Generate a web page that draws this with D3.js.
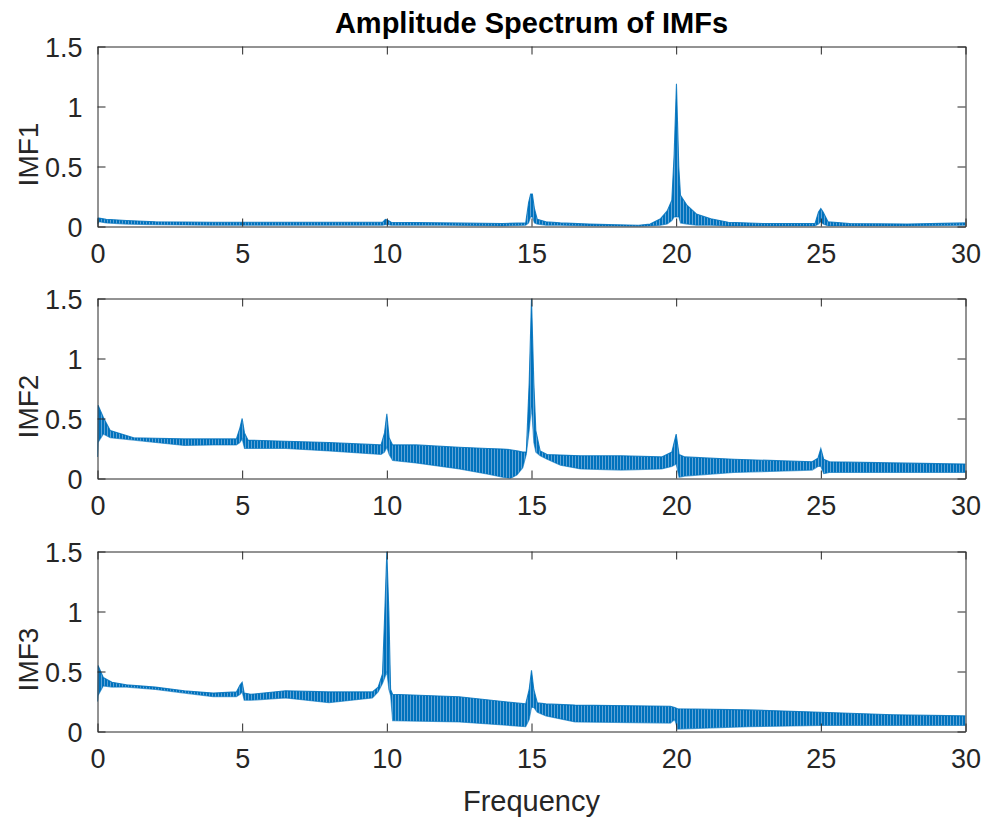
<!DOCTYPE html>
<html>
<head>
<meta charset="utf-8">
<script src="https://cdn.jsdelivr.net/npm/d3@7"></script>
<style>
  html, body { margin: 0; padding: 0; background: #fff; }
  svg { display: block; }
  text { font-family: "Liberation Sans", Arial, Helvetica, sans-serif; }
</style>
</head>
<body>
<svg id="chart" width="984" height="819"></svg>
<script>
// Amplitude spectrum of each IMF: [frequency, upper envelope, lower envelope]
const imf1 = [
  [0.00, 0.07, 0.02], [0.05, 0.07, 0.04], [0.3, 0.06, 0.03], [1, 0.05, 0.02],
  [2, 0.04, 0.015], [4, 0.035, 0.01], [6, 0.035, 0.01], [8, 0.035, 0.01],
  [9.85, 0.035, 0.01], [9.95, 0.06, 0.015], [10.05, 0.05, 0.015], [10.15, 0.035, 0.01],
  [12, 0.03, 0.01], [14, 0.025, 0.005], [14.8, 0.03, 0.01], [14.9, 0.2, 0.03],
  [14.97, 0.27, 0.08], [15.03, 0.27, 0.08], [15.1, 0.15, 0.03], [15.2, 0.06, 0.02],
  [15.5, 0.04, 0.01], [16, 0.03, 0.01], [17, 0.02, 0.005], [18, 0.015, 0.003],
  [18.7, 0.01, 0.0], [19.1, 0.02, 0.005], [19.46, 0.065, 0.01], [19.69, 0.13, 0.02],
  [19.85, 0.22, 0.05], [19.93, 0.6, 0.08], [20.01, 1.19, 0.08], [20.09, 0.5, 0.08],
  [20.15, 0.26, 0.03], [20.38, 0.175, 0.02], [20.7, 0.105, 0.01], [21.2, 0.065, 0.01],
  [21.8, 0.035, 0.005], [23, 0.025, 0.005], [24.8, 0.025, 0.005], [24.92, 0.12, 0.02],
  [25, 0.15, 0.04], [25.08, 0.12, 0.02], [25.25, 0.04, 0.005], [26, 0.025, 0.005],
  [28, 0.02, 0.005], [30, 0.03, 0.01]
];

const imf2 = [
  [0, 0.18, 0.18], [0.02, 0.61, 0.3], [0.2, 0.51, 0.37], [0.44, 0.40, 0.34],
  [1.25, 0.34, 0.32], [2, 0.335, 0.3], [3, 0.33, 0.275], [4, 0.33, 0.28],
  [4.8, 0.33, 0.28], [4.92, 0.42, 0.3], [5, 0.5, 0.33], [5.08, 0.38, 0.25],
  [5.2, 0.32, 0.25], [6.5, 0.31, 0.25], [8, 0.3, 0.23], [9.8, 0.28, 0.2],
  [9.92, 0.38, 0.22], [10, 0.54, 0.26], [10.08, 0.34, 0.2], [10.2, 0.28, 0.15],
  [11, 0.28, 0.13], [12.5, 0.26, 0.08], [13.5, 0.25, 0.035], [14.0, 0.245, 0.01],
  [14.27, 0.24, 0.0], [14.5, 0.23, 0.03], [14.7, 0.22, 0.09], [14.82, 0.22, 0.2],
  [14.92, 0.8, 0.4], [15, 1.5, 0.6], [15.08, 0.8, 0.3], [15.15, 0.4, 0.22],
  [15.3, 0.23, 0.19], [15.54, 0.2, 0.16], [16, 0.195, 0.11], [16.7, 0.19, 0.08],
  [18.1, 0.19, 0.07], [19.5, 0.18, 0.08], [19.85, 0.22, 0.1], [20, 0.37, 0.12],
  [20.1, 0.2, 0.01], [20.3, 0.18, 0.02], [22, 0.16, 0.05], [24.7, 0.14, 0.07],
  [24.9, 0.17, 0.1], [25, 0.25, 0.1], [25.1, 0.16, 0.04], [25.3, 0.14, 0.05],
  [27.5, 0.13, 0.05], [30, 0.12, 0.05]
];

const imf3 = [
  [0, 0.25, 0.25], [0.02, 0.55, 0.3], [0.2, 0.45, 0.38], [0.5, 0.41, 0.37],
  [1, 0.39, 0.37], [2, 0.37, 0.35], [3, 0.34, 0.32], [4, 0.32, 0.29],
  [4.8, 0.33, 0.29], [4.93, 0.39, 0.31], [5, 0.41, 0.33], [5.07, 0.32, 0.26],
  [5.3, 0.31, 0.26], [6.5, 0.34, 0.28], [8, 0.33, 0.24], [9.5, 0.33, 0.28],
  [9.7, 0.37, 0.33], [9.85, 0.48, 0.4], [9.93, 1.0, 0.45], [10, 1.5, 0.5],
  [10.07, 1.0, 0.35], [10.13, 0.35, 0.3], [10.2, 0.31, 0.09], [12.5, 0.29, 0.08],
  [14.8, 0.23, 0.04], [14.92, 0.35, 0.1], [15, 0.51, 0.2], [15.08, 0.35, 0.2],
  [15.2, 0.24, 0.16], [15.5, 0.23, 0.13], [16.5, 0.22, 0.08], [19.8, 0.21, 0.07],
  [19.95, 0.2, 0.1], [20.05, 0.19, 0.02], [22.5, 0.18, 0.04], [25, 0.16, 0.05],
  [27.5, 0.14, 0.05], [30, 0.13, 0.05]
];

const seriesNames = ["IMF1", "IMF2", "IMF3"];
const xTicks = [0, 5, 10, 15, 20, 25, 30];
const yTicks = [0, 0.5, 1, 1.5];
const yTickLabels = ["0", "0.5", "1", "1.5"];
const titleText = "Amplitude Spectrum of IMFs";
const xLabelText = "Frequency";

const svg = d3.select("#chart");
const lineColor = "#0072BD";
const axisColor = "#262626";
const fontStack = '"Liberation Sans", Arial, Helvetica, sans-serif';

// Striped fill that stands in for the densely oscillating trace
const defs = svg.append("defs");
const pat = defs.append("pattern")
  .attr("id", "osc")
  .attr("patternUnits", "userSpaceOnUse")
  .attr("width", 3).attr("height", 10);
pat.append("rect").attr("width", 3).attr("height", 10).attr("fill", "#5fa3d6");
pat.append("rect").attr("width", 2).attr("height", 10).attr("fill", lineColor);

const left = 97.5, right = 965.5;
const panels = [
  { top: 46.5, bottom: 226.5, data: imf1 },
  { top: 298.5, bottom: 478.5, data: imf2 },
  { top: 551.5, bottom: 731.5, data: imf3 }
];

const x = d3.scaleLinear().domain([0, 30]).range([left, right]);

panels.forEach((p, i) => {
  const y = d3.scaleLinear().domain([0, 1.5]).range([p.bottom, p.top]);
  const g = svg.append("g");

  defs.append("clipPath").attr("id", "clip" + i)
    .append("rect")
    .attr("x", left).attr("y", p.top)
    .attr("width", right - left).attr("height", p.bottom - p.top);

  const plot = g.append("g").attr("clip-path", `url(#clip${i})`);

  const band = d3.area()
    .x(d => x(d[0]))
    .y0(d => y(d[2]))
    .y1(d => y(d[1]));

  plot.append("path")
    .datum(p.data)
    .attr("d", band)
    .attr("fill", "url(#osc)")
    .attr("stroke", "none");

  const upper = d3.line().x(d => x(d[0])).y(d => y(d[1]));
  const lower = d3.line().x(d => x(d[0])).y(d => y(d[2]));
  plot.append("path").datum(p.data).attr("d", upper)
    .attr("fill", "none").attr("stroke", lineColor)
    .attr("stroke-width", 1.1).attr("stroke-opacity", 0.85);
  plot.append("path").datum(p.data).attr("d", lower)
    .attr("fill", "none").attr("stroke", lineColor)
    .attr("stroke-width", 1.1).attr("stroke-opacity", 0.6);

  // Box axes with inward ticks
  const axB = d3.axisBottom(x).tickValues(xTicks).tickFormat(d3.format("d"))
    .tickSizeInner(-8).tickSizeOuter(0).tickPadding(17);
  const axT = d3.axisTop(x).tickValues(xTicks).tickFormat("")
    .tickSizeInner(-8).tickSizeOuter(0);
  const axL = d3.axisLeft(y).tickValues(yTicks)
    .tickFormat((d, k) => yTickLabels[k])
    .tickSizeInner(-8).tickSizeOuter(0).tickPadding(15);
  const axR = d3.axisRight(y).tickValues(yTicks).tickFormat("")
    .tickSizeInner(-8).tickSizeOuter(0);

  const gB = g.append("g").attr("transform", `translate(0,${p.bottom})`).call(axB);
  const gT = g.append("g").attr("transform", `translate(0,${p.top})`).call(axT);
  const gL = g.append("g").attr("transform", `translate(${left},0)`).call(axL);
  const gR = g.append("g").attr("transform", `translate(${right},0)`).call(axR);

  [gB, gT, gL, gR].forEach(a => {
    a.selectAll("path.domain").attr("stroke", axisColor).attr("stroke-width", 1);
    a.selectAll(".tick line").attr("stroke", axisColor).attr("stroke-width", 1);
    a.selectAll(".tick text")
      .attr("fill", axisColor)
      .style("font-size", "27px")
      .style("font-family", fontStack);
  });
  gL.selectAll(".tick text").attr("dy", "0.36em");

  // Y label
  g.append("text")
    .attr("transform", `translate(38,${(p.top + p.bottom) / 2 + 18}) rotate(-90)`)
    .attr("text-anchor", "middle")
    .attr("fill", axisColor)
    .style("font-size", "28px")
    .text(seriesNames[i]);
});

svg.append("text")
  .attr("x", (left + right) / 2).attr("y", 33)
  .attr("text-anchor", "middle")
  .attr("fill", "#000")
  .style("font-size", "29px").style("font-weight", "bold")
  .text(titleText);

svg.append("text")
  .attr("x", (left + right) / 2).attr("y", 811)
  .attr("text-anchor", "middle")
  .attr("fill", axisColor)
  .style("font-size", "29px")
  .text(xLabelText);
</script>
</body>
</html>
